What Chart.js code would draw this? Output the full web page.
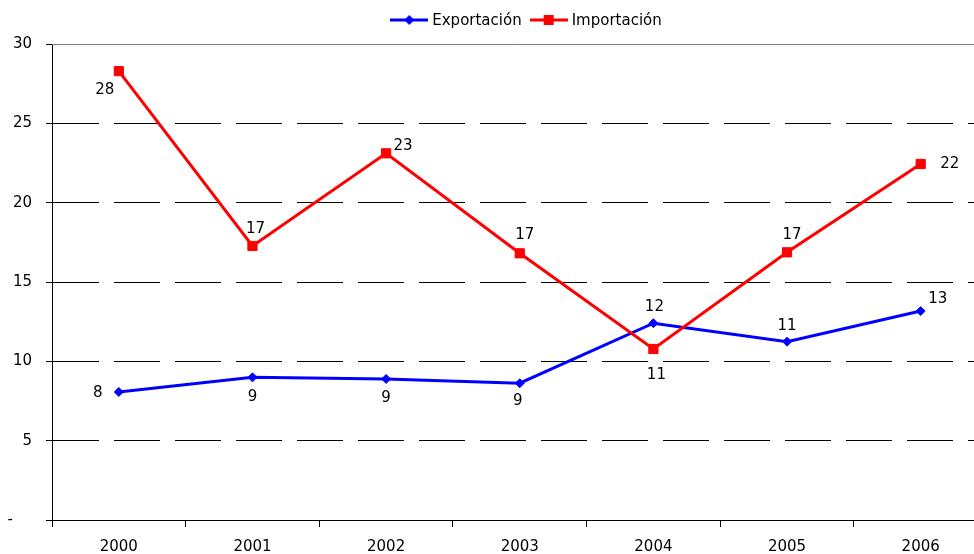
<!DOCTYPE html>
<html>
<head>
<meta charset="utf-8">
<script src="https://cdn.jsdelivr.net/npm/chart.js@4/dist/chart.umd.min.js"></script>
<style>
  html, body { margin: 0; padding: 0; background: #fff; overflow: hidden; }
  #wrap { width: 995px; height: 554px; }
</style>
</head>
<body>
<div id="wrap"><canvas id="c" width="995" height="554"></canvas></div>
<script>
// ---- Data ----
const categories = ['2000', '2001', '2002', '2003', '2004', '2005', '2006'];
const seriesNames = ['Exportación', 'Importación'];
const exportacion = [8.07, 8.99, 8.89, 8.62, 12.40, 11.24, 13.17];
const importacion = [28.29, 17.27, 23.11, 16.81, 10.78, 16.87, 22.44];
const yTicks = [0, 5, 10, 15, 20, 25, 30];

// ---- Styles ----
const FONT = { family: 'DejaVu Sans', size: 15 };
const colors = ['#0000FF', '#FF0000'];
// label offsets relative to each point (style only)
const labelOffsets = [
  [[-21, 0], [0, 19], [0, 18], [-2, 17], [1, -17], [0, -17], [17, -13]],
  [[-14, 18], [3, -18], [17, -8], [5, -19], [3, 25], [5, -18], [29, -1]]
];

function legendIcon(color, style) {
  const c = document.createElement('canvas');
  c.width = 38; c.height = 12;
  const g = c.getContext('2d');
  g.strokeStyle = color; g.lineWidth = 3;
  g.beginPath(); g.moveTo(0, 6); g.lineTo(38, 6); g.stroke();
  g.fillStyle = color;
  g.beginPath();
  if (style === 'rectRot') {
    g.moveTo(19 - 5, 6); g.lineTo(19, 1); g.lineTo(19 + 5, 6); g.lineTo(19, 11); g.closePath();
  } else {
    g.rect(14, 1, 10, 10);
  }
  g.fill();
  return c;
}

const customLegend = {
  id: 'customLegend',
  afterDraw(chart) {
    const ctx = chart.ctx;
    ctx.save();
    ctx.font = FONT.size + 'px "' + FONT.family + '"';
    ctx.textBaseline = 'middle';
    ctx.textAlign = 'left';
    const iconW = 38, gapIcon = 4, gapItem = 8;
    const icons = [legendIcon(colors[0], 'rectRot'), legendIcon(colors[1], 'rect')];
    let total = 0;
    seriesNames.forEach((n, i) => {
      total += iconW + gapIcon + ctx.measureText(n).width + (i < seriesNames.length - 1 ? gapItem : 0);
    });
    let x = 526 - total / 2;
    const y = 20;
    seriesNames.forEach((n, i) => {
      ctx.drawImage(icons[i], x, y - 6);
      x += iconW + gapIcon;
      ctx.fillStyle = '#000';
      ctx.fillText(n, x, y + 1);
      x += ctx.measureText(n).width + gapItem;
    });
    ctx.restore();
  }
};

const topLine = {
  id: 'topLine',
  beforeDatasetsDraw(chart) {
    const a = chart.chartArea, ctx = chart.ctx;
    ctx.save();
    ctx.strokeStyle = '#808080';
    ctx.lineWidth = 1;
    ctx.beginPath();
    ctx.moveTo(a.left, Math.round(a.top) + 0.5);
    ctx.lineTo(a.right, Math.round(a.top) + 0.5);
    ctx.stroke();
    ctx.restore();
  }
};

const valueLabels = {
  id: 'valueLabels',
  afterDatasetsDraw(chart) {
    const ctx = chart.ctx;
    ctx.save();
    ctx.font = FONT.size + 'px "' + FONT.family + '"';
    ctx.fillStyle = '#000';
    ctx.textAlign = 'center';
    ctx.textBaseline = 'middle';
    chart.data.datasets.forEach((ds, di) => {
      const meta = chart.getDatasetMeta(di);
      meta.data.forEach((pt, j) => {
        const off = labelOffsets[di][j];
        ctx.fillText(String(Math.round(ds.data[j])), pt.x + off[0], pt.y + off[1] + 1);
      });
    });
    ctx.restore();
  }
};

new Chart(document.getElementById('c'), {
  type: 'line',
  data: {
    labels: categories,
    datasets: [
      {
        label: seriesNames[0], data: exportacion, order: 1,
        borderColor: colors[0], backgroundColor: colors[0], borderWidth: 3,
        pointStyle: 'rectRot', pointRadius: 4.5, pointBorderWidth: 1,
        pointBackgroundColor: colors[0], pointBorderColor: colors[0],
        tension: 0, fill: false
      },
      {
        label: seriesNames[1], data: importacion, order: 0,
        borderColor: colors[1], backgroundColor: colors[1], borderWidth: 3,
        pointStyle: 'rect', pointRadius: 6.5, pointBorderWidth: 1,
        pointBackgroundColor: colors[1], pointBorderColor: colors[1],
        tension: 0, fill: false
      }
    ]
  },
  options: {
    responsive: false,
    animation: false,
    devicePixelRatio: 1,
    layout: { padding: { top: 44, right: 1, left: 0, bottom: 0 } },
    plugins: { legend: { display: false }, tooltip: { enabled: false } },
    scales: {
      x: {
        type: 'category',
        offset: true,
        grid: { offset: true, drawOnChartArea: false, drawTicks: true, tickLength: 7, color: '#000', tickColor: '#000' },
        border: { display: true, color: '#000', width: 1 },
        ticks: { color: '#000', font: FONT, padding: 11, maxRotation: 0, autoSkip: false },
        afterFit: s => { s.height = 34; }
      },
      y: {
        min: 0, max: 30,
        afterBuildTicks: s => { s.ticks = yTicks.map(v => ({ value: v })); },
        ticks: { color: '#000', font: FONT, padding: 14, callback: v => v === 0 ? '-    ' : String(v) },
        grid: {
          color: c => (c.tick && c.tick.value === 30) ? 'rgba(0,0,0,0)' : '#000',
          tickColor: '#000', tickLength: 6, lineWidth: 1
        },
        border: { display: true, color: '#000', width: 1, dash: [46, 15] },
        afterFit: s => { s.width = 52; }
      }
    }
  },
  plugins: [customLegend, topLine, valueLabels]
});
</script>
</body>
</html>
